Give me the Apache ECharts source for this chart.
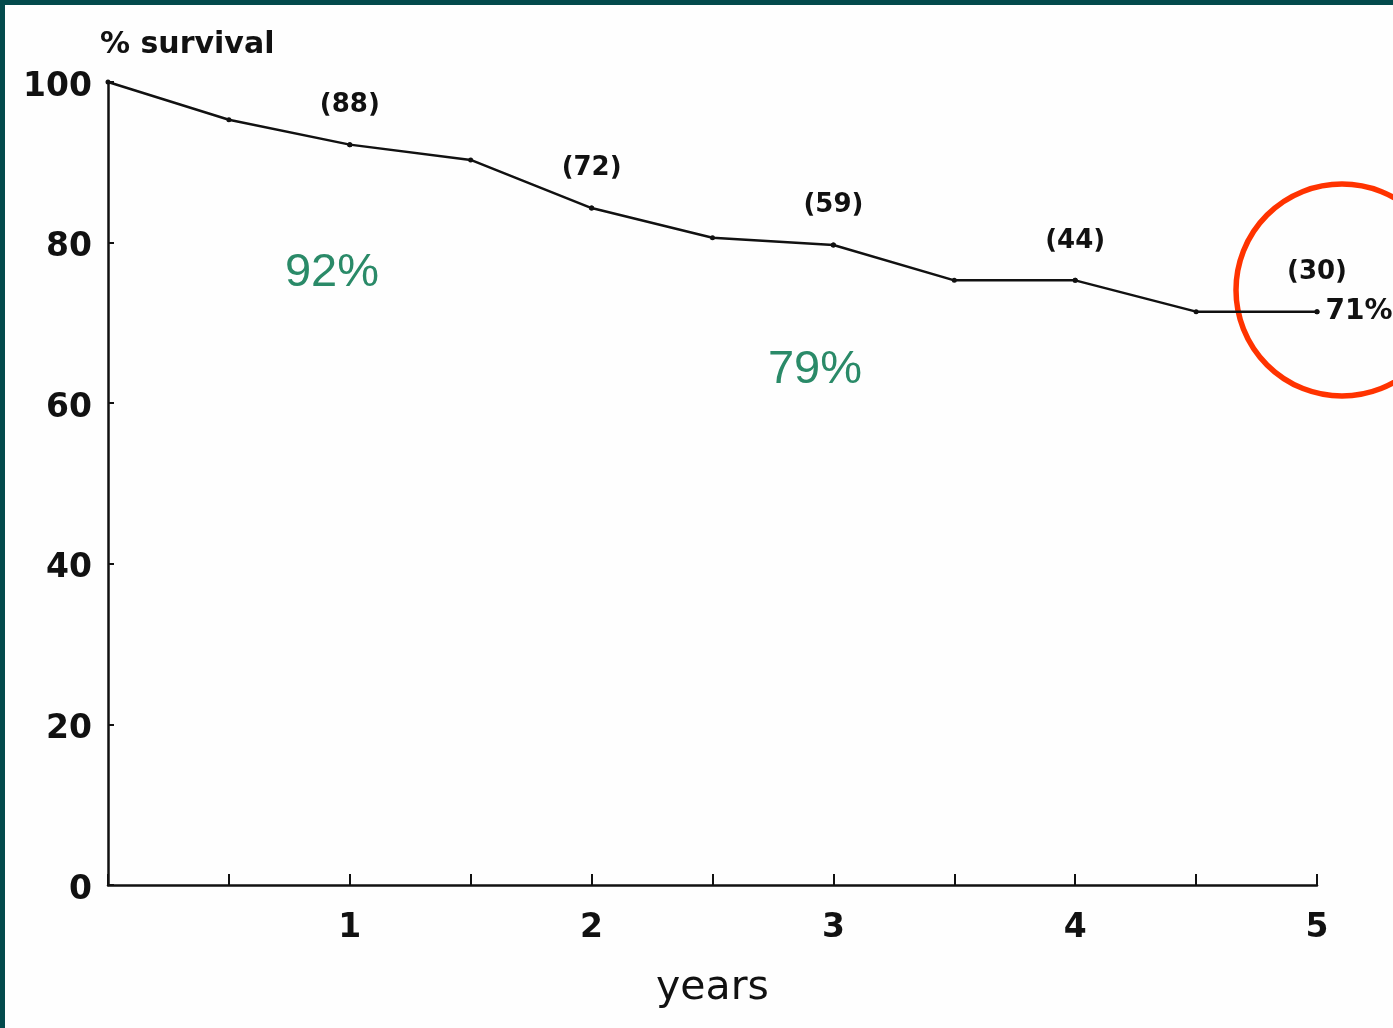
<!DOCTYPE html>
<html><head><meta charset="utf-8">
<script src="https://cdn.jsdelivr.net/npm/echarts@6/dist/echarts.min.js"></script>
<style>html,body{margin:0;padding:0;background:#fefefe;}#c{width:1393px;height:1028px;}</style>
</head><body><div id="c"></div>
<script>
const years = [0, 0.5, 1, 1.5, 2, 2.5, 3, 3.5, 4, 4.5, 5];
const survival = [100, 95.3, 92.2, 90.3, 84.3, 80.6, 79.7, 75.3, 75.3, 71.4, 71.4];
const atRiskYears = [1, 2, 3, 4, 5];
const atRiskN = ['(88)', '(72)', '(59)', '(44)', '(30)'];
const yTicks = [0, 20, 40, 60, 80, 100];
const xTickLabels = ['1', '2', '3', '4', '5'];
const finalLabel = '71%';
const notes = ['92%', '79%'];

const font = '"DejaVu Sans", Verdana, sans-serif';
const ink = '#111';
const chart = echarts.init(document.getElementById('c'));

const lineData = years.map((x, i) => ({ value: [x, survival[i]] }));
lineData[lineData.length - 1].label = {
  show: true, position: 'right', distance: 6, formatter: finalLabel,
  fontFamily: font, fontWeight: 'bold', fontSize: 28, color: ink
};
const riskData = atRiskYears.map((x, k) => ({
  value: [x, survival[years.indexOf(x)]],
  label: { show: true, position: 'top', distance: 24, formatter: atRiskN[k],
    fontFamily: font, fontWeight: 'bold', fontSize: 26, color: ink }
}));

chart.setOption({
  backgroundColor: '#fefefe',
  animation: false,
  grid: { left: 108, right: 76, top: 82, bottom: 143 },
  xAxis: {
    type: 'value', min: 0, max: 5, interval: 0.5,
    name: 'years', nameLocation: 'middle', nameGap: 83,
    nameTextStyle: { fontFamily: font, fontSize: 41, color: ink },
    axisLine: { lineStyle: { color: ink, width: 2.5 } },
    axisTick: { inside: true, length: 11, lineStyle: { color: ink, width: 2 } },
    splitLine: { show: false },
    axisLabel: { margin: 27, fontFamily: font, fontWeight: 'bold', fontSize: 33, color: ink,
      formatter: v => (Number.isInteger(v) && v > 0) ? xTickLabels[v - 1] : '' }
  },
  yAxis: {
    type: 'value', min: 0, max: 100, interval: 20,
    name: '% survival', nameLocation: 'end', nameGap: 22,
    nameTextStyle: { fontFamily: font, fontWeight: 'bold', fontSize: 30, color: ink, align: 'left', padding: [0, 0, 0, -8] },
    axisLine: { show: true, lineStyle: { color: ink, width: 2.5 } },
    axisTick: { show: true, inside: true, length: 6, lineStyle: { color: ink, width: 2 } },
    splitLine: { show: false },
    axisLabel: { margin: 16, color: ink,
      formatter: v => yTicks.includes(v) ? '{t|' + v + '}' : '',
      rich: { t: { fontFamily: font, fontWeight: 'bold', fontSize: 33, color: ink, padding: [10, 0, 0, 0] } } }
  },
  series: [{
    type: 'line',
    data: lineData,
    symbol: 'circle', symbolSize: 5,
    itemStyle: { color: ink },
    lineStyle: { color: ink, width: 2.5 },
    z: 3
  }, {
    type: 'scatter',
    data: riskData,
    symbol: 'circle', symbolSize: 5,
    itemStyle: { color: ink, opacity: 1 },
    z: 2
  }],
  graphic: [
    { type: 'rect', shape: { x: 0, y: 0, width: 1393, height: 5 }, style: { fill: '#034a4c' } },
    { type: 'rect', shape: { x: 0, y: 0, width: 5, height: 1028 }, style: { fill: '#034a4c' } },
    { type: 'text', x: 332, y: 273, style: { text: notes[0], fontFamily: '"Liberation Sans", Arial, sans-serif', fontSize: 47, fill: '#2a8a68', align: 'center', verticalAlign: 'middle' } },
    { type: 'text', x: 815, y: 370, style: { text: notes[1], fontFamily: '"Liberation Sans", Arial, sans-serif', fontSize: 47, fill: '#2a8a68', align: 'center', verticalAlign: 'middle' } },
    { type: 'circle', shape: { cx: 1342, cy: 290, r: 106 }, style: { fill: 'none', stroke: '#ff3300', lineWidth: 5.5 } }
  ]
});
</script></body></html>
